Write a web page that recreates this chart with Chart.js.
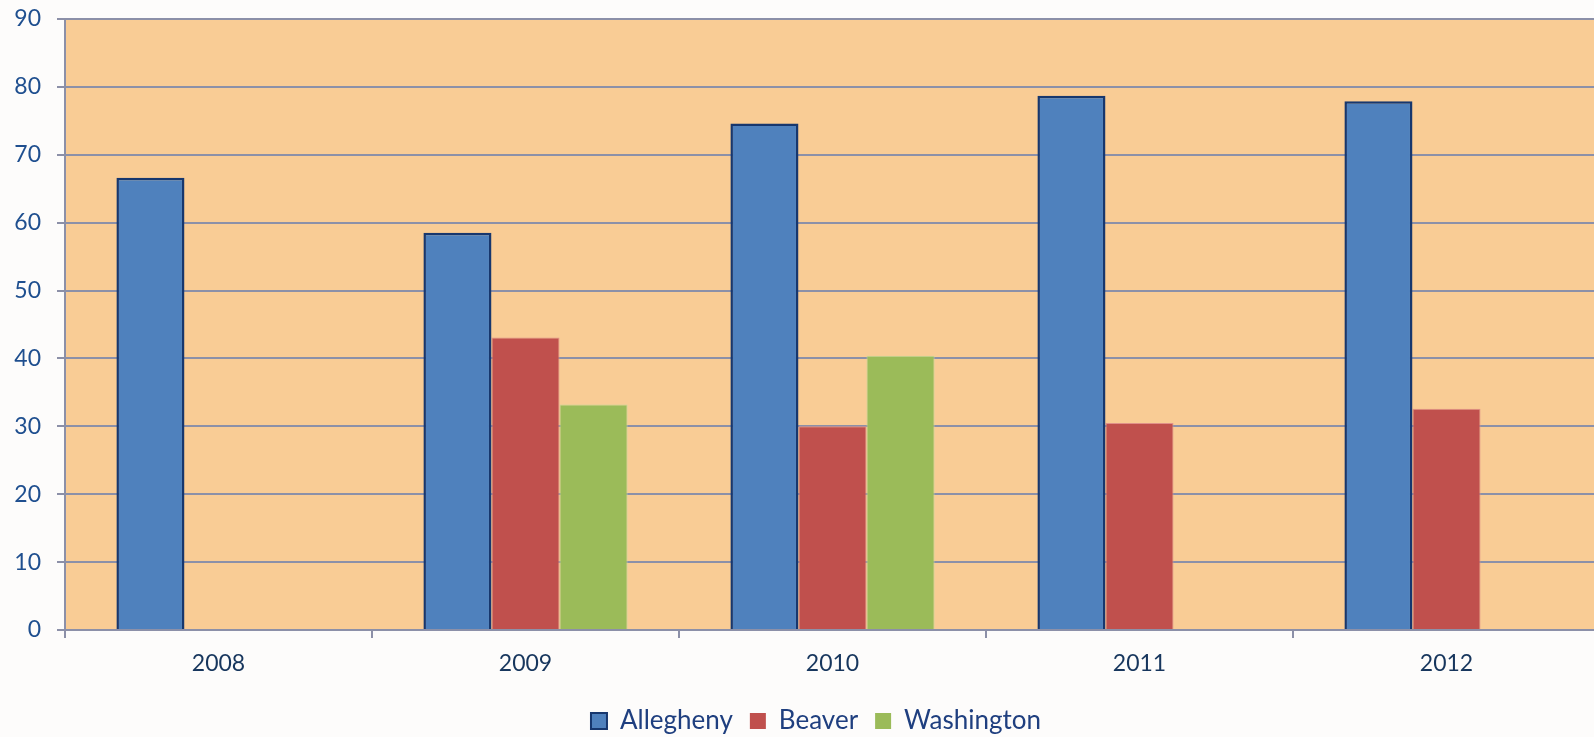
<!DOCTYPE html>
<html>
<head>
<meta charset="utf-8">
<script src="https://cdn.jsdelivr.net/npm/chart.js@4/dist/chart.umd.min.js"></script>
<style>
  html, body { margin: 0; padding: 0; overflow: hidden; background: #fdfcfb; }
  #wrap { width: 1600px; height: 744px; }
</style>
</head>
<body>
<div id="wrap"><canvas id="chart" width="1600" height="744"></canvas></div>
<script>
// ---- Data ----
const years      = ['2008', '2009', '2010', '2011', '2012'];
const allegheny  = [66.6, 58.5, 74.6, 78.7, 77.9];
const beaver     = [null, 43.1, 30.0, 30.5, 32.6];
const washington = [null, 33.2, 40.4, null, null];
const yTicks     = [0, 10, 20, 30, 40, 50, 60, 70, 80, 90];

const FONT = 'Lato, "Open Sans", sans-serif';

// ---- Plot background + legend nudge ----
const plotBg = {
  id: 'plotBg',
  afterLayout(chart) {
    // the original legend sits a little right of the canvas centre
    chart.legend.left += 16;
    chart.legend.right += 16;
  },
  beforeDraw(chart) {
    const { ctx, chartArea: a } = chart;
    ctx.save();
    ctx.fillStyle = '#f9cc95';
    ctx.fillRect(a.left, a.top, a.right - a.left, a.bottom - a.top);
    ctx.restore();
  }
};

new Chart(document.getElementById('chart'), {
  type: 'bar',
  data: {
    labels: years,
    datasets: [
      { label: 'Allegheny',  data: allegheny,  backgroundColor: '#4f81bd', borderColor: '#17376e', borderWidth: 2.5 },
      { label: 'Beaver',     data: beaver,     backgroundColor: '#c0504d', borderColor: '#e0908a', borderWidth: 1 },
      { label: 'Washington', data: washington, backgroundColor: '#9bbb59', borderColor: '#c4d89a', borderWidth: 1 }
    ]
  },
  options: {
    responsive: false,
    animation: false,
    categoryPercentage: 0.665,
    barPercentage: 1,
    layout: { padding: { top: 19, right: 0, bottom: 0, left: 0 } },
    plugins: {
      tooltip: { enabled: false },
      legend: {
        position: 'bottom',
        labels: {
          color: '#1f3f7f',
          font: { family: FONT, size: 26 },
          boxWidth: 16, boxHeight: 16,
          padding: 17,
          generateLabels(chart) {
            return chart.data.datasets.map((ds, i) => ({
              text: ds.label,
              fillStyle: ds.backgroundColor,
              strokeStyle: i === 0 ? '#17376e' : ds.backgroundColor,
              lineWidth: i === 0 ? 2 : 0,
              fontColor: '#1f3f7f',
              datasetIndex: i
            }));
          }
        }
      }
    },
    scales: {
      x: {
        grid: { offset: true, drawOnChartArea: false, color: '#8c90a8', lineWidth: 2, tickLength: 8 },
        border: { color: '#8c90a8', width: 2 },
        ticks: { color: '#17365d', font: { family: FONT, size: 23 }, padding: 12 },
        afterFit(s) { s.height = 61; }
      },
      y: {
        min: 0, max: 90,
        afterBuildTicks(s) { s.ticks = yTicks.map(v => ({ value: v })); },
        grid: { color: '#8c90a8', lineWidth: 2, tickLength: 8 },
        border: { color: '#8c90a8', width: 2 },
        ticks: { color: '#1f4f8f', font: { family: FONT, size: 23 }, padding: 16 },
        afterFit(s) { s.width = 65; s.paddingTop = 0; s.paddingBottom = 0; }
      }
    }
  },
  plugins: [plotBg]
});
</script>
</body>
</html>
